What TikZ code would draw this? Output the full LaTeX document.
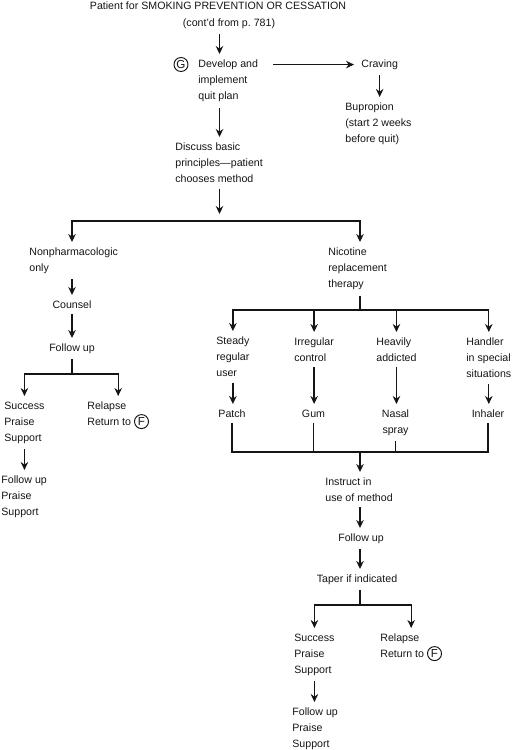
\documentclass[tikz,border=0pt]{standalone}
\usepackage{fontspec}
\setmainfont{Liberation Sans}
\usetikzlibrary{arrows.meta, calc}
\definecolor{ink}{HTML}{151515}
\tikzset{
  txt/.style={inner xsep=0pt, inner ysep=3pt, align=left, anchor=north west, text=ink},
  ctr/.style={inner xsep=0pt, inner ysep=3pt, align=center, anchor=north, text=ink},
  ringmark/.style={draw=ink, circle, line width=0.55pt, inner sep=0pt, minimum size=0.28cm,
               font=\fontsize{6.6}{6.6}\selectfont, text=ink},
  link/.style={line width=0.75pt, draw=ink},
  flow/.style={-{Stealth[length=1.6mm, width=1.5mm]}, line width=0.75pt, draw=ink},
  biflow/.style={{Stealth[length=1.6mm, width=1.5mm]}-{Stealth[length=1.6mm, width=1.5mm]},
                 line width=0.75pt, draw=ink},
}
\newcommand{\encirc}[1]{\tikz[baseline=(m.base)]\node (m) [ringmark] {#1};}

\begin{document}
\begin{tikzpicture}[x=0.02cm, y=-0.02cm, font=\fontsize{6.05}{9.25}\selectfont]
  \useasboundingbox (0,0) rectangle (511,750);
  % top of the chart
  \node (title)   [ctr] at (218,-3.5) {Patient for SMOKING PREVENTION OR CESSATION};
  \node (sub)     [ctr] at (229,13) {(cont'd from p.~781)};
  \node (gmark)   [ringmark] at (181,64.5) {G};
  \node (plan)    [txt] at (198,54) {Develop and\\implement\\quit plan};
  \node (craving) [txt] at (361,54) {Craving};
  \node (bupro)   [txt] at (345,97) {Bupropion\\(start 2 weeks\\before quit)};
  \node (discuss) [txt] at (175,137) {Discuss basic\\principles\textemdash patient\\chooses method};
  \coordinate (split1) at (219.5,221);
  % nonpharmacologic branch
  \node (nonph)   [txt] at (29,242) {Nonpharmacologic\\only};
  \node (counsel) [ctr] at (72,295) {Counsel};
  \node (fu1)     [ctr] at (72,338) {Follow up};
  \coordinate (split2) at (72,374);
  \node (succ1)   [txt] at (4,396) {Success\\Praise\\Support};
  \node (rel1)    [txt] at (87,396) {Relapse\\Return to \encirc{F}};
  \node (fu1b)    [txt] at (1,470) {Follow up\\Praise\\Support};
  % nicotine replacement branch
  \node (nrt)     [txt] at (328,242) {Nicotine\\replacement\\therapy};
  \coordinate (split3) at (360,310);
  \node (steady)  [txt] at (216,331) {Steady\\regular\\user};
  \node (irreg)   [txt] at (294,332) {Irregular\\control};
  \node (heavy)   [txt] at (376,332) {Heavily\\addicted};
  \node (handler) [txt] at (466,332) {Handler\\in special\\situations};
  \node (patch)   [ctr] at (232,404) {Patch};
  \node (gum)     [ctr] at (313.5,404) {Gum};
  \node (nasal)   [ctr] at (395.5,404) {Nasal\\spray};
  \node (inhaler) [ctr] at (488,404) {Inhaler};
  \coordinate (merge) at (360,452);
  \node (instr)   [txt] at (325,472) {Instruct in\\use of method};
  \node (fu2)     [ctr] at (361,528) {Follow up};
  \node (taper)   [ctr] at (357,569) {Taper if indicated};
  \coordinate (split4) at (360,605);
  \node (succ2)   [txt] at (294,628) {Success\\Praise\\Support};
  \node (rel2)    [txt] at (380,628) {Relapse\\Return to \encirc{F}};
  \node (fu2b)    [txt] at (292,702) {Follow up\\Praise\\Support};

  \draw[flow] (sub.south -| split1) -- (plan.north -| split1);
  \draw[flow, shorten <=0.3cm, shorten >=0.14cm] (craving.west -| plan.east) -- (craving.west);
  \draw[flow] (craving.south) -- (craving.south |- bupro.north);
  \draw[flow] (plan.south -| split1) -- (discuss.north -| split1);
  \draw[flow, shorten >=0.14cm] (discuss.south -| split1) -- (split1);
  \draw[biflow] (nonph.north -| split2) |- (split1) -| (nrt.north -| split3);

  \draw[flow] (nonph.south -| split2) -- (counsel.north);
  \draw[flow] (counsel.south) -- (fu1.north);
  \draw[link] (fu1.south) -- (split2);
  \draw[biflow] (succ1.north) |- (split2) -| (rel1.north);
  \draw[flow] (succ1.south) -- (succ1.south |- fu1b.north);

  \draw[link] (nrt.south -| split3) -- (split3);
  \draw[biflow] (steady.north) |- (split3) -| (handler.north);
  \draw[flow] (irreg.north |- split3) -- (irreg.north);
  \draw[flow] (heavy.north |- split3) -- (heavy.north);
  \draw[flow] (steady.south) -- (steady.south |- patch.north);
  \draw[flow] (irreg.south) -- (irreg.south |- gum.north);
  \draw[flow] (heavy.south) -- (heavy.south |- nasal.north);
  \draw[flow] (handler.south) -- (handler.south |- inhaler.north);
  \draw[link] (patch.south) |- (merge) -| (inhaler.south);
  \draw[link] (gum.south) -- (gum.south |- merge);
  \draw[link] (nasal.south) -- (nasal.south |- merge);
  \draw[flow] (merge) -- (instr.north -| merge);
  \draw[flow] (instr.south -| merge) -- (fu2.north -| merge);
  \draw[flow] (fu2.south -| merge) -- (taper.north -| merge);
  \draw[link] (taper.south -| split4) -- (split4);
  \draw[biflow] (succ2.north) |- (split4) -| (rel2.north);
  \draw[flow] (succ2.south) -- (succ2.south |- fu2b.north);
\end{tikzpicture}
\end{document}
